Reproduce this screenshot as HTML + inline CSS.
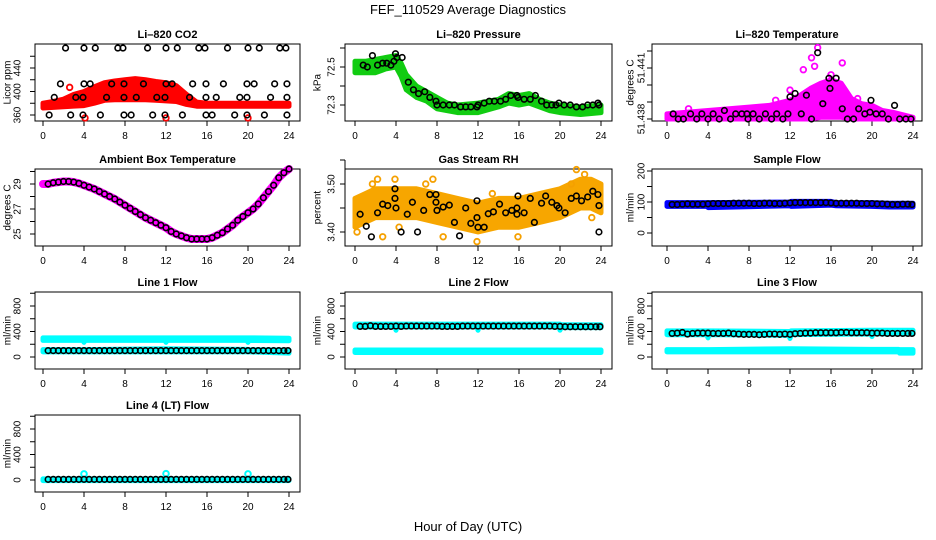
<!DOCTYPE html>
<html><head><meta charset="utf-8">
<style>
html,body{margin:0;padding:0;background:#fff;}
svg{display:block;font-family:"Liberation Sans",sans-serif;}
</style></head>
<body>
<svg id="chart" width="936" height="540" viewBox="0 0 936 540" xmlns="http://www.w3.org/2000/svg">
<text x="468" y="14" text-anchor="middle" font-size="13">FEF_110529  Average Diagnostics</text>
<text x="468" y="531" text-anchor="middle" font-size="13">Hour of Day (UTC)</text>
</svg>
<script>
// ---- data ----
const co2BandH = [0,1,2,3,4,5,6,7,8,9,10,11,12,13,14,15,16,18,20,22,24];
const co2BandLo = [372,373,374,375,376,380,385,386,386,386,386,385,384,383,378,375,375,375,375,375,375];
const co2BandHi = [380,383,387,395,400,408,415,418,420,422,420,417,415,410,395,382,380,380,380,380,380];
const co2H = [2.2,4,5.1,7.3,7.8,10.2,12,13.1,15.2,15.8,18,20,21.1,23.1,23.7,
 1.7,4,4.6,6.7,7.9,9.8,12,12.6,14.6,15.9,17.6,19.9,20.6,22.6,23.8,
 1.1,3.2,3.9,6.2,7.9,9.1,11.1,11.9,14.3,15.9,16.9,19.2,19.9,22.2,23.8,
 0.6,2.7,3.9,5.6,7.9,8.6,10.7,11.9,13.6,15.9,16.5,18.7,19.9,21.6,23.8];
const co2V = [474,474,474,474,474,474,474,474,474,474,474,474,474,474,474,
 413,413,413,413,413,413,413,413,413,413,413,413,413,413,413,
 390,390,390,390,390,390,390,390,390,390,390,390,390,390,390,
 360,360,360,360,360,360,360,360,360,360,360,360,360,360,360];
const co2RedH = [2.6,4.1,12,20];
const co2RedV = [407,355,355,355];

const presBandH = [0,1,2,3,4,4.5,5,6,7,8,9,10,12,14,15,16,17,18,19,20,22,24];
const presBandLo = [72.47,72.47,72.47,72.49,72.50,72.45,72.38,72.34,72.32,72.28,72.27,72.26,72.26,72.29,72.31,72.30,72.31,72.29,72.27,72.26,72.25,72.26];
const presBandHi = [72.53,72.53,72.54,72.55,72.56,72.52,72.46,72.40,72.37,72.34,72.31,72.30,72.31,72.33,72.36,72.35,72.36,72.33,72.31,72.30,72.29,72.30];
const presH = [0.8,1.2,1.7,2.2,2.7,3.1,3.5,3.8,3.95,4.1,4.6,5.2,5.7,6.2,6.8,7.3,7.9,8.0,8.6,9.2,9.7,10.3,10.8,11.3,11.9,12.0,12.6,13.1,13.6,14.2,14.7,15.2,15.8,15.9,16.5,17.1,17.6,18.2,18.7,19.2,19.6,19.9,20.4,21.0,21.6,22.2,22.7,23.2,23.7,23.8];
const presV = [72.51,72.50,72.56,72.51,72.52,72.52,72.51,72.53,72.57,72.55,72.55,72.42,72.38,72.36,72.37,72.34,72.32,72.30,72.30,72.30,72.30,72.29,72.29,72.29,72.29,72.30,72.31,72.32,72.32,72.32,72.33,72.35,72.35,72.34,72.33,72.33,72.35,72.32,72.30,72.30,72.30,72.31,72.30,72.30,72.29,72.29,72.30,72.30,72.31,72.30];

const tempBandH = [0,4,8,10,12,13,14,15,16,17,18,19,20,21,22,24];
const tempBandLo = [51.4380,51.4380,51.4380,51.4380,51.4380,51.4380,51.4380,51.4381,51.4381,51.4381,51.4380,51.4380,51.4380,51.4380,51.4380,51.4380];
const tempBandHi = [51.4383,51.4385,51.4387,51.4388,51.4391,51.4394,51.4398,51.4401,51.4403,51.4401,51.4392,51.4389,51.4388,51.4385,51.4384,51.4381];
const tempOutH = [14.7,14.1,17.1,13.3,14.4,12.0,10.6,2.1,16.0,18.6];
const tempOutV = [51.4422,51.4416,51.4413,51.4409,51.4411,51.4397,51.4391,51.4386,51.4406,51.4392];
const tempH = [0.6,1.1,1.6,2.3,2.9,3.4,4.0,4.5,5.1,5.6,6.2,6.7,7.3,7.8,7.9,8.4,9.0,9.6,10.2,10.7,11.3,11.8,12.0,12.5,13.1,13.6,14.1,14.7,15.2,15.8,15.9,16.5,17.1,17.6,18.2,18.7,19.3,19.8,19.9,20.4,21.0,21.6,22.2,22.7,23.3,23.8];
const tempV = [51.4383,51.4380,51.4380,51.4383,51.4380,51.4383,51.4380,51.4383,51.4380,51.4385,51.4380,51.4383,51.4383,51.4383,51.4380,51.4383,51.4380,51.4383,51.4380,51.4383,51.4380,51.4383,51.4393,51.4395,51.4383,51.4394,51.4380,51.4419,51.4389,51.4404,51.4398,51.4404,51.4386,51.4380,51.4380,51.4386,51.4383,51.4384,51.4391,51.4383,51.4383,51.4380,51.4388,51.4380,51.4380,51.4380];

const ambH = [0,0.5,1,1.5,2,2.5,3,3.5,4,4.5,5,5.5,6,6.5,7,7.5,8,8.5,9,9.5,10,10.5,11,11.5,12,12.5,13,13.5,14,14.5,15,15.5,16,16.5,17,17.5,18,18.5,19,19.5,20,20.5,21,21.5,22,22.5,23,23.5,24];
const ambV = [29.0,29.0,29.1,29.15,29.2,29.2,29.15,29.05,28.9,28.75,28.6,28.4,28.2,28.0,27.8,27.55,27.3,27.05,26.8,26.55,26.3,26.1,25.9,25.7,25.5,25.2,25.0,24.85,24.7,24.6,24.6,24.6,24.6,24.7,24.9,25.1,25.4,25.7,26.1,26.4,26.7,27.0,27.4,27.9,28.4,28.9,29.5,29.9,30.2];

const rhBandH = [0,1,2,4,6,8,10,12,14,16,18,20,22,23,24];
const rhBandLo = [3.41,3.42,3.43,3.43,3.43,3.42,3.41,3.40,3.41,3.41,3.42,3.43,3.45,3.45,3.44];
const rhBandHi = [3.47,3.48,3.49,3.49,3.49,3.48,3.47,3.46,3.47,3.47,3.48,3.49,3.51,3.51,3.50];
const rhOutH = [0.2,1.7,2.2,2.7,3.9,7.6,8.6,11.9,13.4,15.9,21.1,21.6,22.4,23.1,4.3,6.9];
const rhOutV = [3.40,3.50,3.51,3.39,3.51,3.51,3.39,3.38,3.48,3.39,3.50,3.53,3.52,3.43,3.41,3.50];
const rhH = [0.5,1.1,1.6,2.2,2.7,3.2,3.9,3.9,4.0,4.5,5.1,5.6,6.1,6.7,7.3,7.9,7.9,8.0,8.6,9.2,9.7,10.2,10.8,11.3,11.9,11.9,12.0,12.6,13.0,13.5,14.1,14.7,15.3,15.8,15.8,15.9,16.5,17.1,17.5,18.2,18.6,19.2,19.7,19.9,20.5,21.1,21.6,22.1,22.7,23.2,23.7,23.8,23.8];
const rhV = [3.437,3.412,3.390,3.440,3.458,3.455,3.490,3.470,3.450,3.400,3.437,3.462,3.400,3.445,3.478,3.478,3.462,3.445,3.452,3.456,3.420,3.392,3.450,3.418,3.430,3.465,3.410,3.410,3.438,3.442,3.458,3.440,3.445,3.450,3.437,3.475,3.440,3.470,3.420,3.460,3.475,3.462,3.455,3.450,3.440,3.470,3.475,3.465,3.473,3.485,3.478,3.455,3.400];

const sampBandH = [0,3.9,4,12,12.1,16,16.5,20,21.7,24];
const sampBandLo = [86,86,82,88,86,90,88,86,84,84];
const sampBandHi = [98,98,98,100,102,102,98,98,96,96];
const hh = [0.5,1,1.5,2,2.5,3,3.5,4,4.5,5,5.5,6,6.5,7,7.5,8,8.5,9,9.5,10,10.5,11,11.5,12,12.5,13,13.5,14,14.5,15,15.5,16,16.5,17,17.5,18,18.5,19,19.5,20,20.5,21,21.5,22,22.5,23,23.5,23.9];
const sampV = [92,92,93,94,93,93,93,94,95,95,95,95,96,96,96,96,95,95,96,96,95,95,96,97,98,98,98,98,98,98,98,97,96,96,96,96,96,95,95,95,94,94,93,92,92,93,93,92];

const l1BandH = [0,3.9,4,4.1,11.9,12,12.1,19.9,20,20.1,24];
const l1HiLo = [260,260,230,260,260,230,260,260,230,260,255];
const l1HiHi = [300,300,300,300,300,300,300,300,300,300,295];
const l1LoLo = [80,80,80,80,80,80,80,80,80,80,60];
const l1LoHi = [115,115,115,115,130,130,130,120,120,115,110];
const l1V = [100,100,100,100,100,100,100,100,100,100,100,100,100,100,100,100,100,100,100,100,100,100,100,100,100,100,100,100,100,100,100,100,100,100,100,100,100,100,100,100,100,100,100,100,100,100,100,100];

const l2BandH = [0,3.9,4,4.1,11.9,12,12.1,19.9,20,20.1,24];
const l2HiLo = [470,470,420,470,470,420,470,470,420,460,460];
const l2HiHi = [515,515,515,515,515,515,515,515,515,505,505];
const l2LoLo = [70,70,70,70,70,70,70,70,70,70,70];
const l2LoHi = [110,110,110,110,110,110,110,110,110,110,110];
const l2V = [480,480,490,480,480,480,480,485,480,485,485,485,485,485,485,485,480,480,480,480,485,485,485,485,485,485,485,485,485,485,485,485,485,485,485,485,485,485,480,480,475,475,475,475,475,475,475,475];

const l3BandH = [0,3.9,4,4.1,11.9,12,12.1,19.9,20,20.1,22.6,22.7,24];
const l3HiLo = [350,350,300,350,340,290,350,360,320,360,360,360,360];
const l3HiHi = [410,410,410,410,400,400,410,420,420,420,420,420,420];
const l3LoLo = [80,80,80,80,80,80,80,80,80,80,80,60,60];
const l3LoHi = [115,115,115,115,130,130,130,120,120,120,120,115,115];
const l3V = [370,375,385,360,370,375,375,375,370,370,370,375,365,360,355,355,355,350,355,360,360,355,360,355,365,370,375,375,380,380,380,380,380,385,385,380,380,380,380,375,375,375,370,370,370,370,370,370];

const l4BandH = [0,24];
const l4Lo = [-10,-10];
const l4Hi = [18,18];
const l4OutH = [4,12,20];
const l4OutV = [95,100,95];
const l4V = [10,10,10,10,10,10,10,10,10,10,10,10,10,10,10,10,10,10,10,10,10,10,10,10,10,10,10,10,10,10,10,10,10,10,10,10,10,10,10,10,10,10,10,10,10,10,10,10];

const xTicks = [0,4,8,12,16,20,24];

// ---- layout ----
const svg = document.getElementById('chart');
const NS = 'http://www.w3.org/2000/svg';
const colBox = [[35,300],[345,612],[652,922]];
const colX0 = [43,355,667];
const rowTop = [44,169,292,415];
const BOXH = 77;
const yTitleOff = [-27,-27,-21];
const yTickOff = [-17,-13,-10];

function el(tag, attrs, parent) {
  const e = document.createElementNS(NS, tag);
  for (const k in attrs) e.setAttribute(k, attrs[k]);
  (parent || svg).appendChild(e);
  return e;
}

function makePanel(name, title, col, row, yTitle, v0, pix0, ppu, ticks, labels) {
  const g = el('g', {});
  
  
  const top = rowTop[row];
  const p = {
    g: g,
    sx: h => colX0[col] + h * 10.25,
    sy: v => top + pix0 - (v - v0) * ppu
  };
  const [bl, br] = colBox[col];
  const t = el('text', {x: (bl + br) / 2, y: top - 6, 'text-anchor': 'middle', 'font-size': 11, 'font-weight': 'bold'}, g);
  t.textContent = title;
  
  
  const box = el('rect', {x: bl, y: top, width: br - bl, height: BOXH, fill: 'none', stroke: '#000', 'stroke-width': 1}, g);
  
  
  // x axis
  const xa = el('g', {}, g);
  
  
  const yb = top + BOXH;
  el('line', {x1: p.sx(0), x2: p.sx(24), y1: yb, y2: yb, stroke: '#000'}, xa);
  xTicks.forEach(h => {
    el('line', {x1: p.sx(h), x2: p.sx(h), y1: yb, y2: yb + 5, stroke: '#000'}, xa);
    const tl = el('text', {x: p.sx(h), y: yb + 18, 'text-anchor': 'middle', 'font-size': 10}, xa);
    tl.textContent = h;
  });
  // y axis
  const ya = el('g', {}, g);
  
  
  el('line', {x1: bl, x2: bl, y1: p.sy(ticks[0]), y2: p.sy(ticks[ticks.length - 1]), stroke: '#000'}, ya);
  ticks.forEach(v => el('line', {x1: bl - 5, x2: bl, y1: p.sy(v), y2: p.sy(v), stroke: '#000'}, ya));
  labels.forEach(lab => {
    const y = p.sy(parseFloat(lab));
    const x = bl + yTickOff[col];
    const tl = el('text', {x: x, y: y, 'text-anchor': 'middle', 'dominant-baseline': 'central', 'font-size': 10, transform: `rotate(-90 ${x} ${y})`}, ya);
    tl.textContent = lab;
  });
  const tx = bl + yTitleOff[col], ty = top + BOXH / 2;
  const yt = el('text', {x: tx, y: ty, 'text-anchor': 'middle', 'dominant-baseline': 'central', 'font-size': 10, transform: `rotate(-90 ${tx} ${ty})`}, g);
  yt.textContent = yTitle;
  
  
  return p;
}

function band(p, name, hs, lo, hi, color) {
  const pts = hs.map((h, i) => p.sx(h) + ',' + p.sy(hi[i]));
  for (let i = hs.length - 1; i >= 0; i--) pts.push(p.sx(hs[i]) + ',' + p.sy(lo[i]));
  const e = el('polygon', {points: pts.join(' '), fill: color, stroke: color, 'stroke-width': 5, 'stroke-linejoin': 'round'}, p.g);
  
  
}

function points(p, name, hs, vs, color, sw) {
  const g = el('g', {}, p.g);
  
  
  hs.forEach((h, i) => {
    el('circle', {cx: p.sx(h), cy: p.sy(vs[i]), r: 2.8, fill: 'none', stroke: color, 'stroke-width': sw || 1.6}, g);
  });
}

function line(p, name, hs, vs, color, w) {
  const e = el('polyline', {points: hs.map((h, i) => p.sx(h) + ',' + p.sy(vs[i])).join(' '), fill: 'none', stroke: color, 'stroke-width': w, 'stroke-linecap': 'round', 'stroke-linejoin': 'round'}, p.g);
  
  
}

// CO2
let p = makePanel('co2', 'Li\u2013820 CO2', 0, 0, 'Licor ppm', 360, 71, 0.5875, [360,380,400,420,440,460], ['360','400','440']);
band(p, 'co2-red-band', co2BandH, co2BandLo, co2BandHi, '#ff0000');
points(p, 'co2-red-outliers', co2RedH, co2RedV, '#ff0000', 1.8);
points(p, 'co2-black-points', co2H, co2V, '#000');

// Pressure
p = makePanel('pressure', 'Li\u2013820 Pressure', 1, 0, 'kPa', 72.5, 23, 190, [72.3,72.4,72.5,72.6], ['72.3','72.5']);
band(p, 'pressure-green-band', presBandH, presBandLo, presBandHi, '#11cc11');
points(p, 'pressure-black-points', presH, presV, '#000');

// Temperature
p = makePanel('temperature', 'Li\u2013820 Temperature', 2, 0, 'degrees C', 51.438, 75, 17000, [51.438,51.439,51.440,51.441,51.442], ['51.438','51.441']);
band(p, 'temperature-magenta-band', tempBandH, tempBandLo, tempBandHi, '#ff00ff');
points(p, 'temperature-magenta-outliers', tempOutH, tempOutV, '#ff00ff', 1.8);
points(p, 'temperature-black-points', tempH, tempV, '#000');

// Ambient
p = makePanel('ambient', 'Ambient Box Temperature', 0, 1, 'degrees C', 29, 15, 12.5, [25,26,27,28,29,30], ['25','27','29']);
line(p, 'ambient-magenta-line', ambH, ambV, '#ff00ff', 8);
points(p, 'ambient-black-points', ambH.slice(1), ambV.slice(1), '#000');

// RH
p = makePanel('rh', 'Gas Stream RH', 1, 1, 'percent', 3.5, 15, 480, [3.40,3.45,3.50,3.55], ['3.40','3.50']);
band(p, 'rh-orange-band', rhBandH, rhBandLo, rhBandHi, '#f7a600');
points(p, 'rh-orange-outliers', rhOutH, rhOutV, '#f5a000', 1.8);
points(p, 'rh-black-points', rhH, rhV, '#000');

// Sample flow
p = makePanel('sample-flow', 'Sample Flow', 2, 1, 'ml/min', 0, 64, 0.31, [0,50,100,150,200], ['0','100','200']);
band(p, 'sample-flow-blue-band', sampBandH, sampBandLo, sampBandHi, '#0000ff');
points(p, 'sample-flow-black-points', hh, sampV, '#000');

// Line flows
const fT = [0,200,400,600,800,1000], fL = ['0','400','800'];
p = makePanel('line1-flow', 'Line 1 Flow', 0, 2, 'ml/min', 0, 65, 0.06375, fT, fL);
band(p, 'line1-cyan-high-band', l1BandH, l1HiLo, l1HiHi, '#00ffff');
band(p, 'line1-cyan-low-band', l1BandH, l1LoLo, l1LoHi, '#00ffff');
points(p, 'line1-black-points', hh, l1V, '#000');

p = makePanel('line2-flow', 'Line 2 Flow', 1, 2, 'ml/min', 0, 65, 0.06375, fT, fL);
band(p, 'line2-cyan-high-band', l2BandH, l2HiLo, l2HiHi, '#00ffff');
band(p, 'line2-cyan-low-band', l2BandH, l2LoLo, l2LoHi, '#00ffff');
points(p, 'line2-black-points', hh, l2V, '#000');

p = makePanel('line3-flow', 'Line 3 Flow', 2, 2, 'ml/min', 0, 65, 0.06375, fT, fL);
band(p, 'line3-cyan-high-band', l3BandH, l3HiLo, l3HiHi, '#00ffff');
band(p, 'line3-cyan-low-band', l3BandH, l3LoLo, l3LoHi, '#00ffff');
points(p, 'line3-black-points', hh, l3V, '#000');

p = makePanel('line4-flow', 'Line 4 (LT) Flow', 0, 3, 'ml/min', 0, 65, 0.06375, fT, fL);
band(p, 'line4-cyan-band', l4BandH, l4Lo, l4Hi, '#00ffff');
points(p, 'line4-cyan-outliers', l4OutH, l4OutV, '#00ffff', 2);
points(p, 'line4-black-points', hh, l4V, '#000');
</script>
</body></html>
